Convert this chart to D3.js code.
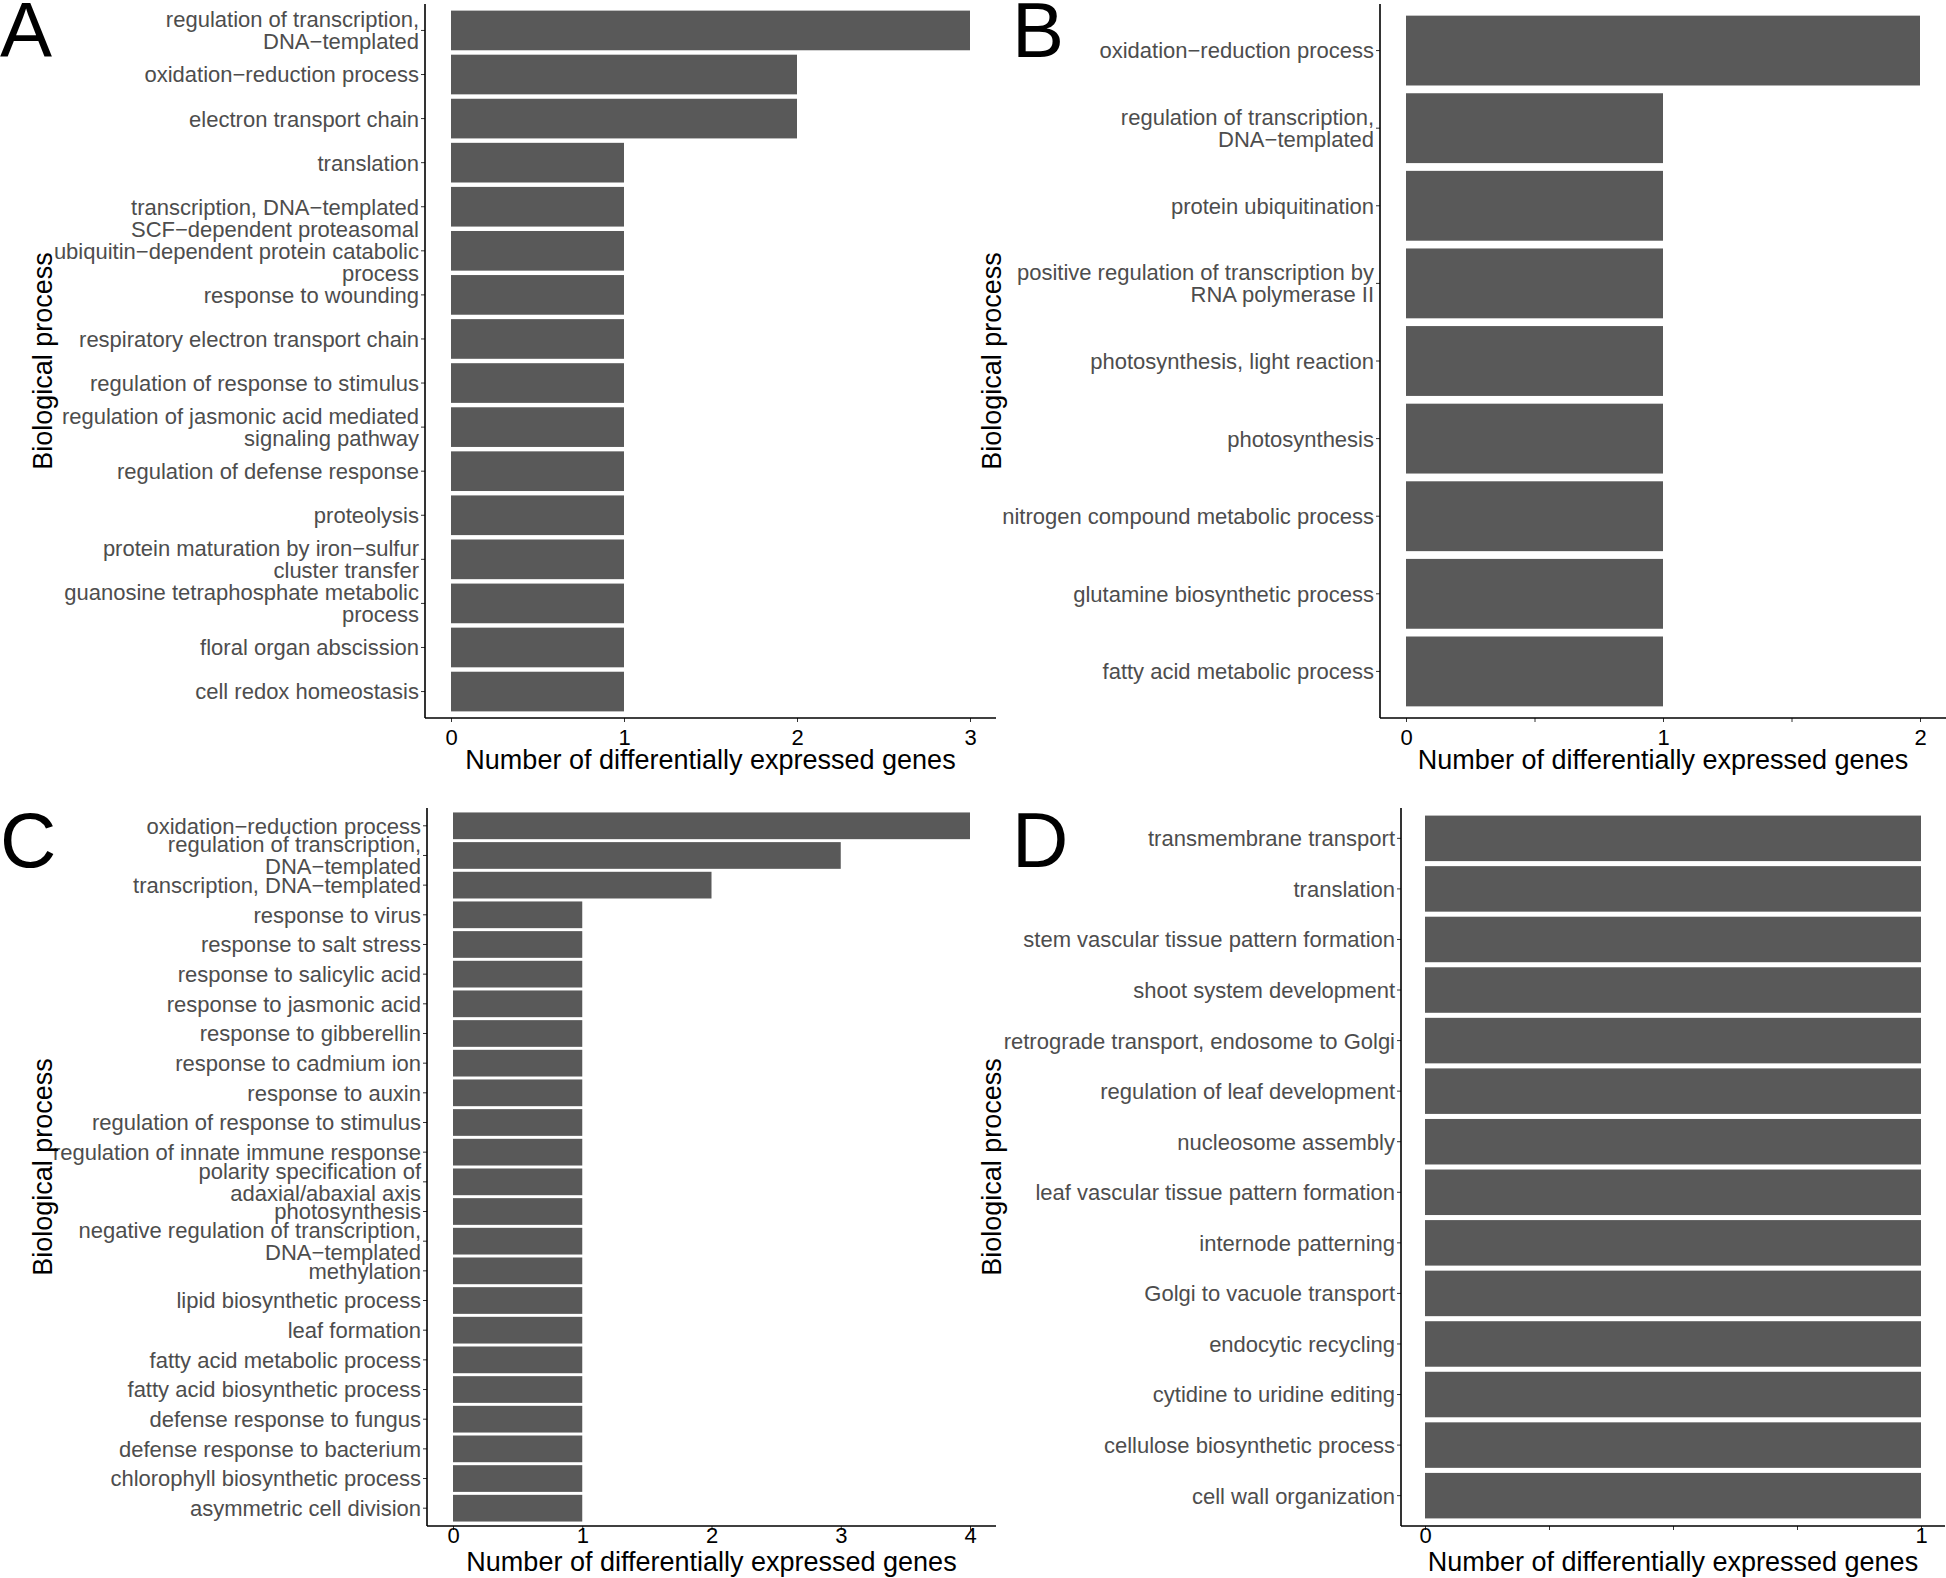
<!DOCTYPE html>
<html>
<head>
    <script type="text/javascript" src="https://d3js.org/d3.v7.min.js"></script>
    <style>
        body { margin: 0; background: #fff; }
        text { font-family: "Liberation Sans", Arial, Helvetica, sans-serif; }
    </style>
</head>
<body>
    <svg width="1946" height="1578"></svg>

    <script>
        // GO biological process counts, top to bottom as drawn
        const catsA = [
            "regulation of transcription,\nDNA\u2212templated",
            "oxidation\u2212reduction process",
            "electron transport chain",
            "translation",
            "transcription, DNA\u2212templated",
            "SCF\u2212dependent proteasomal\nubiquitin\u2212dependent protein catabolic\nprocess",
            "response to wounding",
            "respiratory electron transport chain",
            "regulation of response to stimulus",
            "regulation of jasmonic acid mediated\nsignaling pathway",
            "regulation of defense response",
            "proteolysis",
            "protein maturation by iron\u2212sulfur\ncluster transfer",
            "guanosine tetraphosphate metabolic\nprocess",
            "floral organ abscission",
            "cell redox homeostasis"
        ];
        const valsA = [3, 2, 2, 1, 1, 1, 1, 1, 1, 1, 1, 1, 1, 1, 1, 1];
        const ticksA = [0, 1, 2, 3];

        const catsB = [
            "oxidation\u2212reduction process",
            "regulation of transcription,\nDNA\u2212templated",
            "protein ubiquitination",
            "positive regulation of transcription by\nRNA polymerase II",
            "photosynthesis, light reaction",
            "photosynthesis",
            "nitrogen compound metabolic process",
            "glutamine biosynthetic process",
            "fatty acid metabolic process"
        ];
        const valsB = [2, 1, 1, 1, 1, 1, 1, 1, 1];
        const ticksB = [0, 0.5, 1, 1.5, 2];

        const catsC = [
            "oxidation\u2212reduction process",
            "regulation of transcription,\nDNA\u2212templated",
            "transcription, DNA\u2212templated",
            "response to virus",
            "response to salt stress",
            "response to salicylic acid",
            "response to jasmonic acid",
            "response to gibberellin",
            "response to cadmium ion",
            "response to auxin",
            "regulation of response to stimulus",
            "regulation of innate immune response",
            "polarity specification of\nadaxial/abaxial axis",
            "photosynthesis",
            "negative regulation of transcription,\nDNA\u2212templated",
            "methylation",
            "lipid biosynthetic process",
            "leaf formation",
            "fatty acid metabolic process",
            "fatty acid biosynthetic process",
            "defense response to fungus",
            "defense response to bacterium",
            "chlorophyll biosynthetic process",
            "asymmetric cell division"
        ];
        const valsC = [4, 3, 2, 1, 1, 1, 1, 1, 1, 1, 1, 1, 1, 1, 1, 1, 1, 1, 1, 1, 1, 1, 1, 1];
        const ticksC = [0, 1, 2, 3, 4];

        const catsD = [
            "transmembrane transport",
            "translation",
            "stem vascular tissue pattern formation",
            "shoot system development",
            "retrograde transport, endosome to Golgi",
            "regulation of leaf development",
            "nucleosome assembly",
            "leaf vascular tissue pattern formation",
            "internode patterning",
            "Golgi to vacuole transport",
            "endocytic recycling",
            "cytidine to uridine editing",
            "cellulose biosynthetic process",
            "cell wall organization"
        ];
        const valsD = [1, 1, 1, 1, 1, 1, 1, 1, 1, 1, 1, 1, 1, 1];
        const ticksD = [0, 0.25, 0.5, 0.75, 1];

        const svg = d3.select("svg");

        function panel(p) {
            const g = svg.append("g");
            const maxV = d3.max(p.ticks);

            const x = d3.scaleLinear()
                .domain([0, maxV])
                .range([p.x0, p.x1]);

            const y = d3.scaleBand()
                .domain(p.cats)
                .range([p.top, p.bottom])
                .paddingInner(0.1)
                .paddingOuter(0.15);

            // bars
            g.selectAll("rect")
                .data(p.cats)
                .enter()
                .append("rect")
                .attr("x", x(0))
                .attr("y", d => y(d))
                .attr("width", (d, i) => x(p.vals[i]) - x(0))
                .attr("height", y.bandwidth())
                .attr("fill", "#595959");

            // y axis
            const yAxis = g.append("g")
                .attr("transform", `translate(${p.axisX},0)`)
                .call(d3.axisLeft(y).tickSize(4).tickFormat(""));
            yAxis.select(".domain").remove();
            yAxis.selectAll(".tick line").attr("stroke", "#333").attr("stroke-width", 1);

            yAxis.selectAll(".tick").each(function(d) {
                const lines = d.split("\n");
                const t = d3.select(this).append("text")
                    .attr("x", -6)
                    .attr("text-anchor", "end")
                    .attr("fill", "#4d4d4d")
                    .style("font-size", "22px");
                lines.forEach((ln, k) => {
                    t.append("tspan")
                        .attr("x", -6)
                        .attr("y", (k - (lines.length - 1) / 2) * 22)
                        .attr("dy", "0.36em")
                        .text(ln);
                });
            });

            // x axis
            const xAxis = g.append("g")
                .attr("transform", `translate(0,${p.bottom})`)
                .call(d3.axisBottom(x).tickValues(p.ticks).tickSize(4)
                    .tickFormat(v => Number.isInteger(v) ? v : ""));
            xAxis.select(".domain").remove();
            xAxis.selectAll(".tick line").attr("stroke", "#333");
            xAxis.selectAll(".tick text")
                .attr("y", null).attr("dy", null)
                .attr("transform", `translate(0,${p.tickBase - p.bottom})`)
                .attr("fill", "#000")
                .style("font-size", "22px");

            // axis lines
            const right = Math.min(p.x1 + (p.x0 - p.axisX), 1946);
            g.append("line")
                .attr("x1", p.axisX).attr("x2", p.axisX)
                .attr("y1", p.top).attr("y2", p.bottom)
                .attr("stroke", "#000").attr("stroke-width", 1.6);
            g.append("line")
                .attr("x1", p.axisX).attr("x2", right)
                .attr("y1", p.bottom).attr("y2", p.bottom)
                .attr("stroke", "#000").attr("stroke-width", 1.6);

            // titles
            g.append("text")
                .attr("x", (p.axisX + p.x1 + (p.x0 - p.axisX)) / 2)
                .attr("y", p.titleBase)
                .attr("text-anchor", "middle")
                .style("font-size", "27px")
                .attr("fill", "#000")
                .text("Number of differentially expressed genes");

            g.append("text")
                .attr("transform", `translate(${p.yTitleX},${(p.top + p.bottom) / 2}) rotate(-90)`)
                .attr("text-anchor", "middle")
                .attr("dy", "0.36em")
                .style("font-size", "27px")
                .attr("fill", "#000")
                .text("Biological process");

            g.append("text")
                .attr("x", p.letterX)
                .attr("y", p.letterY)
                .style("font-size", "78px")
                .attr("fill", "#000")
                .text(p.letter);
        }

        panel({ cats: catsA, vals: valsA, ticks: ticksA, letter: "A",
                axisX: 425, x0: 451, x1: 970, top: 4, bottom: 718,
                tickBase: 745, titleBase: 769, yTitleX: 42, letterX: 0, letterY: 57 });
        panel({ cats: catsB, vals: valsB, ticks: ticksB, letter: "B",
                axisX: 1380, x0: 1406, x1: 1920, top: 4, bottom: 718,
                tickBase: 745, titleBase: 769, yTitleX: 991, letterX: 1012, letterY: 57 });
        panel({ cats: catsC, vals: valsC, ticks: ticksC, letter: "C",
                axisX: 427, x0: 453, x1: 970, top: 808, bottom: 1526,
                tickBase: 1543, titleBase: 1571, yTitleX: 42, letterX: 0, letterY: 867 });
        panel({ cats: catsD, vals: valsD, ticks: ticksD, letter: "D",
                axisX: 1401, x0: 1425, x1: 1921, top: 808, bottom: 1526,
                tickBase: 1543, titleBase: 1571, yTitleX: 991, letterX: 1012, letterY: 867 });
    </script>
</body>
</html>
